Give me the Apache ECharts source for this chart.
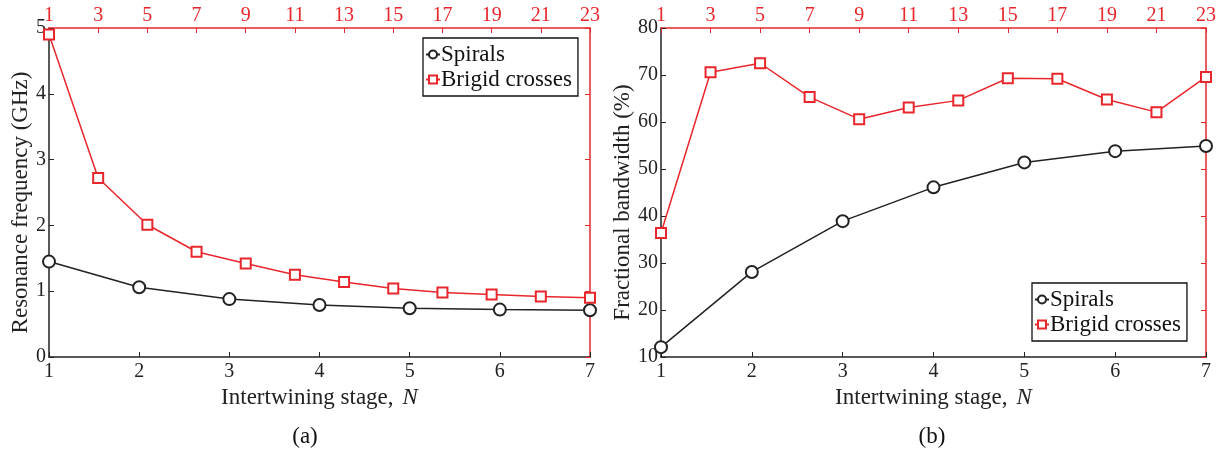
<!DOCTYPE html>
<html>
<head>
<meta charset="utf-8">
<script src="https://cdn.jsdelivr.net/npm/echarts@6/dist/echarts.min.js"></script>
<style>
html,body{margin:0;padding:0;background:#fff;}
#c{width:1223px;height:450px;}
</style>
</head>
<body>
<div id="c"></div>
<script>
// ---- data ----
const stages = ['1','2','3','4','5','6','7'];
const topTicks = ['1','3','5','7','9','11','13','15','17','19','21','23'];
const seriesNames = ['Spirals', 'Brigid crosses'];
const freqSpirals = [1.45, 1.06, 0.88, 0.79, 0.74, 0.72, 0.71];
const freqCrosses = [4.90, 2.72, 2.01, 1.60, 1.42, 1.25, 1.14, 1.04, 0.98, 0.95, 0.92, 0.90];
const bwSpirals = [12.1, 28.1, 38.9, 46.1, 51.4, 53.8, 54.9];
const bwCrosses = [36.4, 70.6, 72.5, 65.3, 60.6, 63.1, 64.6, 69.3, 69.2, 64.8, 62.1, 69.6];
const panelLabels = ['(a)', '(b)'];
const yTitles = ['Resonance frequency (GHz)', 'Fractional bandwidth (%)'];
const xTitle = 'Intertwining stage,';
const xTitleVar = 'N';

const FONT = 'Liberation Serif';
const RED = '#e8262b';
const BLACK = '#222222';
const TICKFS = 20;

const chart = echarts.init(document.getElementById('c'), null, {renderer: 'canvas'});

function bottomAxis(gi) {
  return {
    type: 'category', gridIndex: gi, position: 'bottom', data: stages, boundaryGap: false,
    axisLine: {onZero: false, lineStyle: {color: BLACK, width: 1.5}},
    axisTick: {inside: true, length: 5, lineStyle: {color: BLACK}},
    axisLabel: {color: BLACK, fontFamily: FONT, fontSize: TICKFS, margin: 5},
    splitLine: {show: false},
    name: '{t|' + xTitle + '}{v|' + xTitleVar + '}',
    nameLocation: 'middle', nameGap: 23,
    nameTextStyle: {rich: {
      t: {fontFamily: FONT, fontSize: 23, color: '#222'},
      v: {fontFamily: FONT, fontSize: 23, fontStyle: 'italic', color: '#222', padding: [0,0,0,9]}
    }}
  };
}
function topAxis(gi) {
  return {
    type: 'category', gridIndex: gi, position: 'top', data: topTicks, boundaryGap: false,
    axisLine: {onZero: false, lineStyle: {color: RED, width: 1.5}},
    axisTick: {inside: true, length: 5, lineStyle: {color: RED}},
    axisLabel: {color: RED, fontFamily: FONT, fontSize: TICKFS, margin: 2},
    splitLine: {show: false}
  };
}
function leftAxis(gi, min, max, interval, name, gap) {
  return {
    type: 'value', gridIndex: gi, position: 'left', min: min, max: max, interval: interval,
    axisLine: {show: true, onZero: false, lineStyle: {color: BLACK, width: 1.5}},
    axisTick: {show: true, inside: true, length: 5, lineStyle: {color: BLACK}},
    axisLabel: {color: BLACK, fontFamily: FONT, fontSize: TICKFS, margin: 3},
    splitLine: {show: false},
    name: name, nameLocation: 'middle', nameGap: gap,
    nameTextStyle: {fontFamily: FONT, fontSize: 23, color: '#222', padding: [0, 20, 0, 0]}
  };
}
function rightAxis(gi, min, max, interval) {
  return {
    type: 'value', gridIndex: gi, position: 'right', min: min, max: max, interval: interval,
    axisLine: {show: true, onZero: false, lineStyle: {color: RED, width: 1.5}},
    axisTick: {show: true, inside: true, length: 5, lineStyle: {color: RED}},
    axisLabel: {show: false},
    splitLine: {show: false}
  };
}
function blackSeries(xi, yi, data) {
  return {
    name: seriesNames[0], type: 'line', xAxisIndex: xi, yAxisIndex: yi, data: data,
    symbol: 'emptyCircle', symbolSize: 12,
    lineStyle: {color: BLACK, width: 1.5}, itemStyle: {color: BLACK, borderWidth: 1.6},
    z: 3
  };
}
function redSeries(xi, yi, data) {
  return {
    name: seriesNames[1], type: 'line', xAxisIndex: xi, yAxisIndex: yi, data: data,
    symbol: 'emptyRect', symbolSize: 10,
    lineStyle: {color: RED, width: 1.5}, itemStyle: {color: RED, borderWidth: 1.3},
    z: 4
  };
}
function legend(left, top) {
  return {
    orient: 'vertical', left: left, top: top, data: seriesNames,
    itemWidth: 14, itemHeight: 10, itemGap: 2,
    padding: [5, 6, 5, 2],
    borderColor: '#111', borderWidth: 1.3, backgroundColor: '#fff',
    textStyle: {fontFamily: FONT, fontSize: 23, color: '#111', padding: [0,0,0,-4]},
    selectedMode: false
  };
}

const option = {
  animation: false,
  backgroundColor: '#fff',
  grid: [
    {left: 49, right: 1223 - 590, top: 28, bottom: 450 - 357},
    {left: 661, right: 1223 - 1206, top: 28, bottom: 450 - 357}
  ],
  xAxis: [bottomAxis(0), topAxis(0), bottomAxis(1), topAxis(1)],
  yAxis: [leftAxis(0, 0, 5, 1, yTitles[0], 14), rightAxis(0, 0, 5, 1),
          leftAxis(1, 10, 80, 10, yTitles[1], 26), rightAxis(1, 10, 80, 10)],
  legend: [legend(423, 38), legend(1032, 283)],
  title: [
    {text: panelLabels[0], left: 305, top: 437, textAlign: 'center', textVerticalAlign: 'middle',
     textStyle: {fontFamily: FONT, fontSize: 23, fontWeight: 'normal', color: '#111'}, padding: 0},
    {text: panelLabels[1], left: 932, top: 437, textAlign: 'center', textVerticalAlign: 'middle',
     textStyle: {fontFamily: FONT, fontSize: 23, fontWeight: 'normal', color: '#111'}, padding: 0}
  ],
  series: [
    blackSeries(0, 0, freqSpirals),
    redSeries(1, 1, freqCrosses),
    blackSeries(2, 2, bwSpirals),
    redSeries(3, 3, bwCrosses)
  ]
};
chart.setOption(option);
</script>
</body>
</html>
